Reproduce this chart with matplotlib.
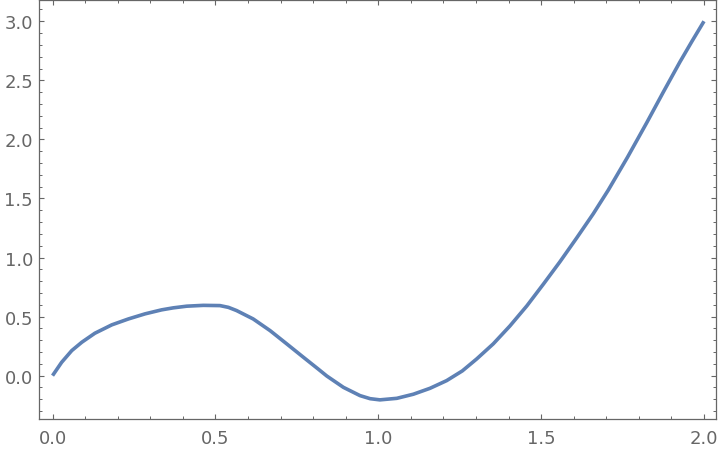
import matplotlib
matplotlib.use('Agg')
import matplotlib.pyplot as plt
from matplotlib.ticker import MultipleLocator

# values
x = [0.0, 0.028, 0.059, 0.090, 0.130, 0.182, 0.233, 0.284, 0.335, 0.371,
     0.412, 0.463, 0.514, 0.540, 0.565, 0.616, 0.668, 0.719, 0.770, 0.816,
     0.842, 0.893, 0.944, 0.975, 1.005, 1.057, 1.108, 1.159, 1.210, 1.258,
     1.302, 1.353, 1.404, 1.456, 1.507, 1.558, 1.609, 1.660, 1.706, 1.765,
     1.824, 1.875, 1.926, 1.963, 2.0]
y = [0.0, 0.113, 0.212, 0.283, 0.359, 0.430, 0.480, 0.523, 0.557, 0.574,
     0.588, 0.595, 0.593, 0.578, 0.551, 0.480, 0.381, 0.269, 0.156, 0.055,
     -0.003, -0.099, -0.169, -0.195, -0.205, -0.192, -0.157, -0.107, -0.042, 0.040,
     0.141, 0.269, 0.420, 0.590, 0.775, 0.965, 1.165, 1.370, 1.570, 1.848,
     2.140, 2.400, 2.655, 2.830, 3.0]

gray = '#666666'

fig = plt.figure(figsize=(7.2, 4.52), dpi=100)
ax = fig.add_axes([0.0535, 0.0708, 0.941, 0.927])
ax.plot(x, y, color='#5E81B5', linewidth=2.6, solid_capstyle='butt',
        solid_joinstyle='round')

ax.set_xlim(-0.043, 2.037)
ax.set_ylim(-0.367, 3.18)
ax.xaxis.set_major_locator(MultipleLocator(0.5))
ax.xaxis.set_minor_locator(MultipleLocator(0.1))
ax.yaxis.set_major_locator(MultipleLocator(0.5))
ax.yaxis.set_minor_locator(MultipleLocator(0.1))
ax.xaxis.set_major_formatter(plt.FormatStrFormatter('%.1f'))
ax.yaxis.set_major_formatter(plt.FormatStrFormatter('%.1f'))

for s in ax.spines.values():
    s.set_color(gray)
    s.set_linewidth(0.9)
ax.tick_params(which='both', direction='in', top=True, right=True,
               color=gray, labelcolor=gray, labelsize=13)
ax.tick_params(which='major', length=3.8, width=0.8)
ax.tick_params(which='minor', length=2.2, width=0.7)
ax.tick_params(axis='x', pad=7)
ax.tick_params(axis='y', pad=4)

fig.savefig('out.png', dpi=100)
